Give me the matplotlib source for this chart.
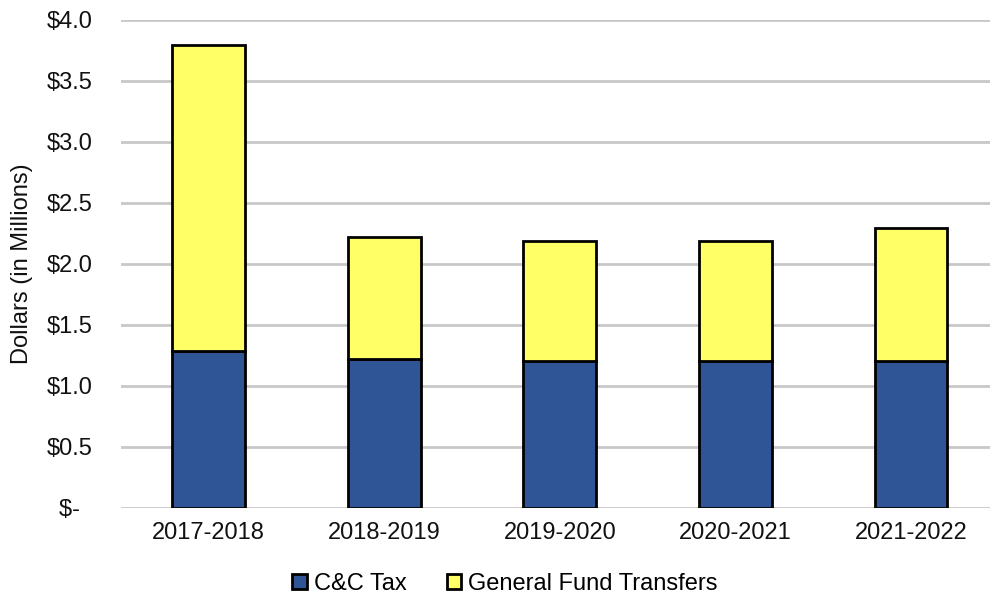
import matplotlib.pyplot as plt
import numpy as np

years = ["2017-2018", "2018-2019", "2019-2020", "2020-2021", "2021-2022"]
cc_tax = [1.29, 1.22, 1.20, 1.20, 1.20]
general_fund = [2.50, 1.00, 0.99, 0.99, 1.09]
y_ticks = [0.0, 0.5, 1.0, 1.5, 2.0, 2.5, 3.0, 3.5, 4.0]
y_tick_labels = ["$-  ", "$0.5", "$1.0", "$1.5", "$2.0", "$2.5", "$3.0", "$3.5", "$4.0"]


def main():
    plt.rcParams['font.family'] = ['Liberation Sans', 'DejaVu Sans']
    fig = plt.figure(figsize=(9.9, 5.99), dpi=100)
    ax = fig.add_axes([0.122, 0.152, 0.878, 0.815])

    x = np.arange(len(years))
    width = 0.415
    ax.bar(x, cc_tax, width, color="#2F5597", edgecolor="black", linewidth=2,
           label="C&C Tax", zorder=3)
    ax.bar(x, general_fund, width, bottom=cc_tax, color="#FFFF66", edgecolor="black",
           linewidth=2, label="General Fund Transfers", zorder=3)

    ax.set_ylim(0, 4.0)
    ax.set_xlim(-0.5, 4.45)
    ax.set_yticks(y_ticks)
    ax.set_yticklabels(y_tick_labels, fontsize=17, color="#111111")
    ax.set_xticks(x)
    ax.set_xticklabels(years, fontsize=17, color="#111111")
    ax.tick_params(axis='y', length=0, pad=20)
    ax.tick_params(axis='x', length=0, pad=10)
    ax.grid(axis='y', color="#c8c8c8", linewidth=2, zorder=0)
    for s in ax.spines.values():
        s.set_visible(False)
    ax.set_ylabel("Dollars (in Millions)", fontsize=17, color="#111111", labelpad=10)

    fig.legend(loc="center", bbox_to_anchor=(0.51, 0.025), ncol=2, frameon=False,
               fontsize=17, handlelength=0.6, handleheight=0.6, handletextpad=0.3,
               columnspacing=1.7)

    fig.savefig("out.png", dpi=100)


if __name__ == '__main__':
    main()
